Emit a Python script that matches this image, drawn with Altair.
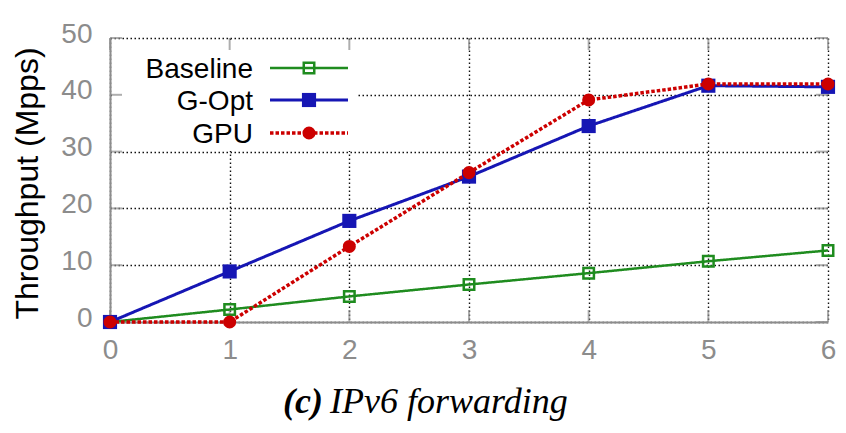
import altair as alt
import pandas as pd

# ---------------- data ----------------
x_vals = [0, 1, 2, 3, 4, 5, 6]
baseline = [0, 2.2, 4.5, 6.6, 8.6, 10.7, 12.6]
gopt = [0, 8.9, 17.8, 25.6, 34.5, 41.6, 41.4]
gpu = [0, 0, 13.3, 26.3, 39.1, 41.9, 41.9]
series_names = ["Baseline", "G-Opt", "GPU"]
x_ticks = [0, 1, 2, 3, 4, 5, 6]
y_ticks = [0, 10, 20, 30, 40, 50]
y_title = "Throughput (Mpps)"
caption_a = "(c)"
caption_b = "IPv6 forwarding"

# ---------------- style ----------------
W, H = 718, 284
GRAY = "#8c8c8c"
styles = {
    "Baseline": dict(color="#1f8c1f", width=2.5, dash=[1, 0], shape="square", filled=False, size=110),
    "G-Opt": dict(color="#1616b4", width=3, dash=[1, 0], shape="square", filled=True, size=200),
    "GPU": dict(color="#cc0000", width=3.5, dash=[3.5, 2], shape="circle", filled=True, size=170),
}
values_by_series = {"Baseline": baseline, "G-Opt": gopt, "GPU": gpu}

xscale = alt.Scale(domain=[0, 6], nice=False, zero=False)
yscale = alt.Scale(domain=[0, 50], nice=False)

grid_kw = dict(grid=True, gridColor="#111111", gridDash=[1.5, 2.5], gridWidth=1.4,
               domainColor=GRAY, domainWidth=2, ticks=False, tickSize=0, labelFlush=False,
               labelColor=GRAY, labelFont="Liberation Sans", labelFontSize=28)

xaxis = alt.Axis(values=x_ticks, format="d", labelPadding=14, title="", **grid_kw)
yaxis = alt.Axis(values=y_ticks, format="d", labelPadding=18, labelOffset=-4,
                 title=y_title, titleFont="Liberation Sans", titleFontSize=32,
                 titleFontWeight="normal", titleColor="black", titleX=-83, titleY=145,
                 titleAngle=-90, titleAlign="center", titleBaseline="middle", **grid_kw)

layers = []

# main (invisible) layer carrying the axes
all_df = pd.DataFrame({
    "x": x_vals * 3,
    "y": baseline + gopt + gpu,
    "series": [s for s in series_names for _ in x_vals],
})
layers.append(
    alt.Chart(all_df).mark_point(opacity=0).encode(
        x=alt.X("x:Q", scale=xscale, axis=xaxis),
        y=alt.Y("y:Q", scale=yscale, axis=yaxis),
    )
)

# legend white box covering grid
layers.append(
    alt.Chart(pd.DataFrame({"a": [0]})).mark_rect(color="white").encode(
        x=alt.value(2), x2=alt.value(248), y=alt.value(3), y2=alt.value(113)
    )
)

# inward ticks (gnuplot style), on all four sides
tx = pd.DataFrame({"v": x_ticks})
ty = pd.DataFrame({"v": y_ticks})
tick_kw = dict(size=12, thickness=2, color=GRAY)
layers.append(alt.Chart(tx).mark_tick(orient="vertical", yOffset=-6, **tick_kw).encode(
    x=alt.X("v:Q", scale=xscale), y=alt.YDatum(0, type="quantitative")))
layers.append(alt.Chart(tx).mark_tick(orient="vertical", yOffset=6, **tick_kw).encode(
    x=alt.X("v:Q", scale=xscale), y=alt.YDatum(50, type="quantitative")))
layers.append(alt.Chart(ty).mark_tick(orient="horizontal", xOffset=6, **tick_kw).encode(
    y=alt.Y("v:Q", scale=yscale), x=alt.XDatum(0, type="quantitative")))
layers.append(alt.Chart(ty).mark_tick(orient="horizontal", xOffset=-6, **tick_kw).encode(
    y=alt.Y("v:Q", scale=yscale), x=alt.XDatum(6, type="quantitative")))

# series lines + markers
for name in series_names:
    st = styles[name]
    sdf = pd.DataFrame({"x": x_vals, "y": values_by_series[name]})
    enc = dict(x=alt.X("x:Q", scale=xscale), y=alt.Y("y:Q", scale=yscale))
    layers.append(alt.Chart(sdf).mark_line(color=st["color"], strokeWidth=st["width"],
                                           strokeDash=st["dash"]).encode(**enc))
    if st["filled"]:
        pm = alt.Chart(sdf).mark_point(shape=st["shape"], filled=True, size=st["size"],
                                       color=st["color"], opacity=1)
    else:
        pm = alt.Chart(sdf).mark_point(shape=st["shape"], filled=False, size=st["size"],
                                       color=st["color"], strokeWidth=2.5, opacity=1)
    layers.append(pm.encode(**enc))

# manual legend (label left, sample right)
row_y = [30, 62, 95]
for name, ry in zip(series_names, row_y):
    st = styles[name]
    ldf = pd.DataFrame({"series": [name]})
    layers.append(alt.Chart(ldf).mark_text(align="right", baseline="alphabetic",
                                           font="Liberation Sans", fontSize=28, color="black").encode(
        text="series:N", x=alt.value(143), y=alt.value(ry + 10)))
    layers.append(alt.Chart(ldf).mark_rule(color=st["color"], strokeWidth=st["width"],
                                           strokeDash=st["dash"]).encode(
        x=alt.value(160), x2=alt.value(238), y=alt.value(ry)))
    if st["filled"]:
        lp = alt.Chart(ldf).mark_point(shape=st["shape"], filled=True, size=st["size"],
                                       color=st["color"], opacity=1)
    else:
        lp = alt.Chart(ldf).mark_point(shape=st["shape"], filled=False, size=st["size"],
                                       color=st["color"], strokeWidth=2.5, opacity=1)
    layers.append(lp.encode(x=alt.value(199), y=alt.value(ry)))

# caption
cdf = pd.DataFrame({"a": [caption_a], "b": [caption_b]})
layers.append(alt.Chart(cdf).mark_text(align="right", baseline="alphabetic", font="Liberation Serif",
                                       fontSize=36, fontStyle="italic", fontWeight="bold",
                                       color="black").encode(
    text="a:N", x=alt.value(213), y=alt.value(375)))
layers.append(alt.Chart(cdf).mark_text(align="left", baseline="alphabetic", font="Liberation Serif",
                                       fontSize=36, fontStyle="italic", color="black").encode(
    text="b:N", x=alt.value(220), y=alt.value(375)))

chart = alt.layer(*layers).properties(
    width=W, height=H,
    autosize=alt.AutoSizeParams(type="none"),
    padding={"left": 102, "top": 30, "right": 10, "bottom": 103},
    background="white",
).configure_view(stroke=None)

chart.save("out.html", embed_options={"renderer": "svg", "actions": False})
